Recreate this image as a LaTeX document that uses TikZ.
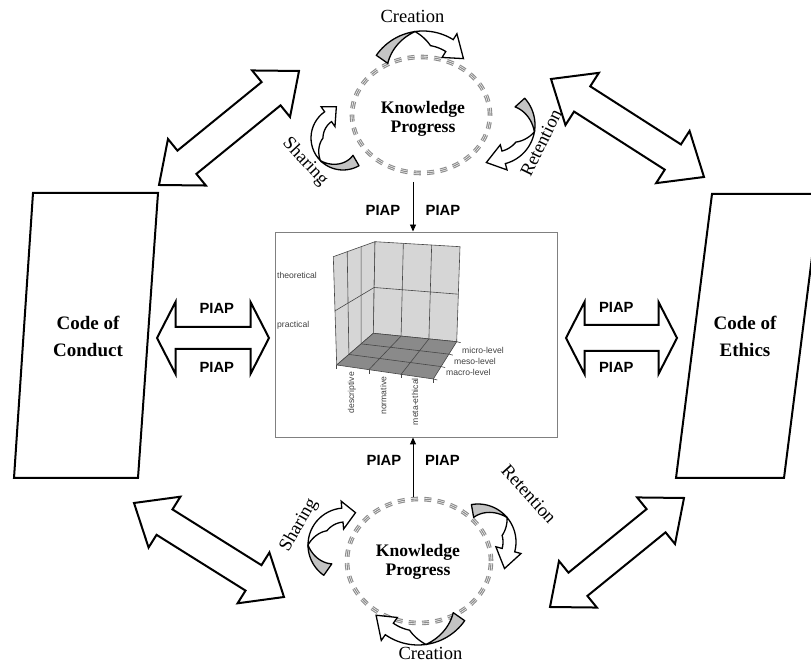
\documentclass[tikz,border=0pt]{standalone}
\usepackage{fontspec}
\setmainfont{Liberation Serif}
\newfontfamily\arialf{Liberation Sans}
\usetikzlibrary{calc,shapes.geometric,arrows.meta}
\definecolor{ringgray}{RGB}{140,140,140}
\definecolor{backgray}{RGB}{196,196,196}
\definecolor{wallgray}{RGB}{214,214,214}
\definecolor{floorgray}{RGB}{138,138,138}
\definecolor{gridline}{RGB}{70,70,70}
\definecolor{boxgray}{RGB}{128,128,128}

% double-headed block arrow between two named coordinates
\newcommand{\blockdbl}[5]{%
 \coordinate (bdh1) at ($(#1)!#3!(#2)$);
 \coordinate (bdh2) at ($(#2)!#3!(#1)$);
 \draw[blockarrow] (#1) -- ($(bdh1)!#4!90:(#2)$) -- ($(bdh1)!#5!90:(#2)$)
   -- ($(bdh2)!#5!-90:(#1)$) -- ($(bdh2)!#4!-90:(#1)$) -- (#2)
   -- ($(bdh2)!#4!90:(#1)$) -- ($(bdh2)!#5!90:(#1)$)
   -- ($(bdh1)!#5!-90:(#2)$) -- ($(bdh1)!#4!-90:(#2)$) -- cycle;}

% twisted curved arrow: cx cy R t a0 am ah a1 tipoff
\newcommand{\twarrow}[9]{%
\begin{scope}[shift={(#1,#2)}]
\pgfmathsetmacro\twRo{#3}%
\pgfmathsetmacro\twRi{(#3)-(#4)}%
\pgfmathsetmacro\twT{#4}%
\pgfmathsetmacro\twRm{(#3)-(#4)/2+(#9)}%
\pgfmathsetmacro\twWo{(#3)+(#4)/2}%
\pgfmathsetmacro\twWi{(#3)-(#4)-(#4)/2}%
\pgfmathsetmacro\twA{#5}\pgfmathsetmacro\twM{#6}\pgfmathsetmacro\twH{#7}\pgfmathsetmacro\twE{#8}%
\pgfmathsetmacro\twK{(\twM)+0.45*((\twH)-(\twM))}%
\filldraw[twback] plot[domain=0:1,samples=16,variable=\s] ({cos((\twA)+((\twM)-(\twA))*\s)*\twRo},{sin((\twA)+((\twM)-(\twA))*\s)*\twRo})
 -- plot[domain=1:0,samples=16,variable=\s] ({cos((\twA)+((\twM)-(\twA))*\s)*(\twRi+\twT*\s)},{sin((\twA)+((\twM)-(\twA))*\s)*(\twRi+\twT*\s)}) -- cycle;
\filldraw[twfront] plot[domain=0:1,samples=16,variable=\s] ({cos((\twM)+((\twH)-(\twM))*\s)*\twRo},{sin((\twM)+((\twH)-(\twM))*\s)*\twRo})
 -- ({cos(\twH)*\twWo},{sin(\twH)*\twWo})
 -- ({cos(\twE)*\twRm},{sin(\twE)*\twRm})
 -- ({cos(\twH)*\twWi},{sin(\twH)*\twWi})
 -- plot[domain=1:0,samples=12,variable=\s] ({cos((\twK)+((\twH)-(\twK))*\s)*\twRi},{sin((\twK)+((\twH)-(\twK))*\s)*\twRi})
 -- plot[domain=1:0,samples=12,variable=\s] ({cos((\twM)+((\twK)-(\twM))*\s)*(\twRo-\twT*\s)},{sin((\twM)+((\twK)-(\twM))*\s)*(\twRo-\twT*\s)}) -- cycle;
\end{scope}}

\tikzset{
 blockarrow/.style={draw=black, line width=2pt, fill=white, line join=miter},
 codebox/.style={draw=black, line width=2pt, fill=white, line join=miter},
 ringline/.style={draw=ringgray, line width=4.6pt, dash pattern=on 7pt off 6.3pt,
   postaction={draw=white, line width=0.6pt, double=ringgray, double distance=1.1pt, dash pattern=on 7pt off 6.3pt}},
 twback/.style={draw=black, line width=1.3pt, fill=backgray, line join=round},
 twfront/.style={draw=black, line width=1.3pt, fill=white, line join=miter},
 piap/.style={font=\arialf\bfseries\fontsize{14.8}{16}\selectfont, inner sep=0pt},
 kptext/.style={font=\bfseries\fontsize{17.6}{19}\selectfont, align=center, inner sep=0pt},
 codetext/.style={font=\bfseries\fontsize{19}{27}\selectfont, align=center, inner sep=0pt},
 cyctext/.style={font=\fontsize{18.5}{20}\selectfont, inner sep=0pt},
 chartlbl/.style={font=\arialf\fontsize{8.6}{10}\selectfont, text=black!75, inner sep=0pt},
 wallface/.style={fill=wallgray, draw=gridline, line width=0.6pt},
 floorface/.style={fill=floorgray, draw=gridline, line width=0.6pt},
 gridln/.style={draw=gridline, line width=0.6pt},
 link/.style={draw=black, line width=0.9pt, -{Triangle[length=7pt,width=6pt]}},
}

\begin{document}
\begin{tikzpicture}[x=1pt,y=1pt]
\useasboundingbox (0,0) rectangle (811,666);

% ---------- big diagonal double arrows ----------
\coordinate (tlA) at (159,481); \coordinate (tlB) at (299,595);
\coordinate (trA) at (551,587); \coordinate (trB) at (704,489);
\coordinate (blA) at (134,163); \coordinate (blB) at (284,69);
\coordinate (brA) at (550,59);  \coordinate (brB) at (684,168);
\blockdbl{tlA}{tlB}{36pt}{30pt}{15pt}
\blockdbl{trA}{trB}{37pt}{31pt}{15pt}
\blockdbl{blA}{blB}{36pt}{30pt}{15pt}
\blockdbl{brA}{brB}{36pt}{30pt}{15pt}

% ---------- codes ----------
\draw[codebox] (33,473) -- (158,473) -- (138,188) -- (14,188) -- cycle;
\node[codetext] (conduct) at (88,329.7) {Code of\\Conduct};
\draw[codebox] (712,472) -- (820,472) -- (784,188) -- (676,188) -- cycle;
\node[codetext] (ethics) at (745,329.7) {Code of\\Ethics};

% ---------- horizontal double arrows ----------
\coordinate (lhA) at (157,328); \coordinate (lhB) at (269,328);
\coordinate (rhA) at (566,328); \coordinate (rhB) at (677,328);
\blockdbl{lhA}{lhB}{18.5pt}{36pt}{11pt}
\blockdbl{rhA}{rhB}{18.5pt}{36pt}{13pt}
\node[piap] (pl1) at (216.8,358) {PIAP};
\node[piap] (pl2) at (216.8,298.5) {PIAP};
\node[piap] (pr1) at (616.3,358.8) {PIAP};
\node[piap] (pr2) at (616.3,298.5) {PIAP};

% ---------- central box with chart ----------
\node[draw=boxgray, line width=0.9pt, minimum width=282pt, minimum height=205pt, inner sep=0pt] (box) at (416,331.5) {};
\coordinate (FL) at (336.7,301);
\coordinate (BL) at (373.3,332.7);
\coordinate (BR) at (456.7,324.3);
\coordinate (FR) at (433.3,287);
\coordinate (TF) at (333.3,409.3);
\coordinate (TB) at (375,424.3);
\coordinate (TR) at (460,419.3);
\filldraw[wallface] (FL) -- (BL) -- (TB) -- (TF) -- cycle;
\filldraw[wallface] (BL) -- (BR) -- (TR) -- (TB) -- cycle;
\foreach \k in {1,2}{
  \draw[gridln] ($(FL)!\k/3!(BL)$) -- ($(TF)!\k/3!(TB)$);
  \draw[gridln] ($(BL)!\k/3!(BR)$) -- ($(TB)!\k/3!(TR)$);
}
\draw[gridln] ($(FL)!.5!(TF)$) -- ($(BL)!.5!(TB)$) -- ($(BR)!.5!(TR)$);
\filldraw[floorface] (FL) -- (FR) -- (BR) -- (BL) -- cycle;
\foreach \k in {1,2}{
  \draw[gridln] ($(FL)!\k/3!(FR)$) -- ($(BL)!\k/3!(BR)$);
  \draw[gridln] ($(FL)!\k/3!(BL)$) -- ($(FR)!\k/3!(BR)$);
}
\foreach \k in {0,1,2,3}{
  \draw[gridln] ($(FL)!\k/3!(FR)$) -- ++(0,-4);
  \draw[gridln] ($(FR)!\k/3!(BR)$) -- ++(4,-1);
}
\node[chartlbl, anchor=west] (lt) at (277,391) {theoretical};
\node[chartlbl, anchor=west] (lp) at (277,341) {practical};
\node[chartlbl, anchor=west] (lmi) at (462,316) {micro-level};
\node[chartlbl, anchor=west] (lme) at (454,305) {meso-level};
\node[chartlbl, anchor=west] (lma) at (446,293.3) {macro-level};
\node[chartlbl, rotate=90, anchor=east] (ld) at (352,294) {descriptive};
\node[chartlbl, rotate=90, anchor=east] (ln) at (383.3,289.3) {normative};
\node[chartlbl, rotate=90, anchor=east] (lme2) at (415,288) {meta-ethical};

% ---------- knowledge progress rings ----------
\node[ringline, ellipse, minimum width=138pt, minimum height=116pt, inner sep=0pt] (kpTop) at (421,551) {};
\node[kptext] (kpTopText) at (423,547.3) {Knowledge\\Progress};
\node[ringline, ellipse, minimum width=144pt, minimum height=124pt, inner sep=0pt] (kpBot) at (419,105) {};
\node[kptext] (kpBotText) at (418,103.9) {Knowledge\\Progress};

% ---------- twisted cycle arrows ----------
\twarrow{423}{578}{57}{14}{145}{98}{58}{36}{0}
\twarrow{495}{541}{40}{13}{42}{-10}{-75}{-103}{5}
\twarrow{343}{528}{32}{12}{-60}{-135}{-235}{-258}{6}
\twarrow{345}{121}{37}{14}{235}{180}{95}{72}{4}
\twarrow{478}{124}{38}{13}{100}{40}{-15}{-45}{6}
\twarrow{418}{78}{57}{14}{-35}{-82}{-125}{-147}{0}

\node[cyctext, anchor=base] (creT) at (412.5,643.3) {Creation};
\node[cyctext, rotate=-47] (shaT) at (305,504) {Sharing};
\node[cyctext, rotate=64] (retT) at (541,523) {Retention};
\node[cyctext, anchor=base] (creB) at (430.5,6) {Creation};
\node[cyctext, rotate=60] (shaB) at (299,141) {Sharing};
\node[cyctext, rotate=-48] (retB) at (529,172) {Retention};

% ---------- vertical links ----------
\coordinate (ta) at (413,484);
\draw[link] (ta) -- (ta |- box.north);
\coordinate (ba) at (413,169);
\draw[link] (ba) -- (ba |- box.south);
\node[piap] (pt1) at (383,456) {PIAP};
\node[piap] (pt2) at (443,456) {PIAP};
\node[piap] (pb1) at (384,206) {PIAP};
\node[piap] (pb2) at (442.5,206) {PIAP};
\end{tikzpicture}
\end{document}
